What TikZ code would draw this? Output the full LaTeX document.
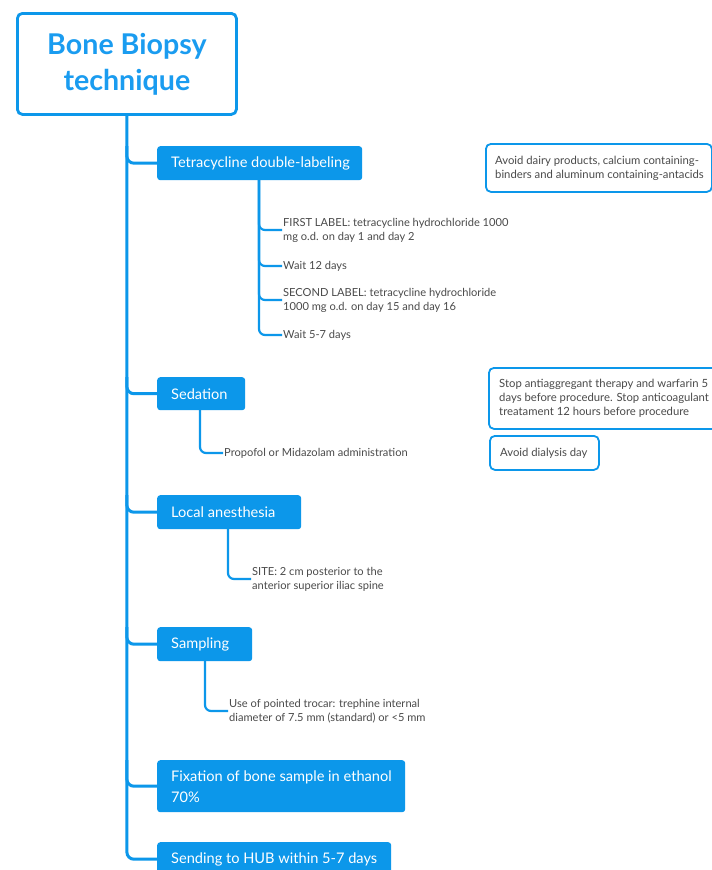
\documentclass[tikz,border=0pt]{standalone}
\usepackage{fontspec}
\setmainfont{Lato}
\definecolor{mblue}{HTML}{0C97EA}
\definecolor{tblue}{HTML}{1A9CF0}
\definecolor{tgray}{HTML}{4A4A4A}
\begin{document}
\begin{tikzpicture}[x=1pt,y=-1pt,
  trunk/.style={draw=mblue, line width=3pt, rounded corners=7pt},
  childline/.style={draw=mblue, line width=2.2pt, rounded corners=6pt},
  mainbox/.style={fill=mblue, rounded corners=3pt, anchor=north west, inner sep=0pt},
  maintext/.style={text=white, font=\fontsize{14.6}{21}\selectfont, anchor=west, align=left, inner sep=0pt},
  notebox/.style={draw=mblue, line width=1.8pt, fill=white, rounded corners=5pt, anchor=north west, inner sep=0pt},
  notetext/.style={text=tgray, font=\fontsize{11.3}{14}\selectfont, anchor=west, align=left, inner sep=0pt},
  childtext/.style={text=tgray, font=\fontsize{11.1}{14}\selectfont, anchor=west, align=left, inner sep=1pt}]
\useasboundingbox (0,0) rectangle (712,870);
\clip (0,0) rectangle (712,870);
\fill[white] (0,0) rectangle (712,870);

% title
\node[draw=mblue, line width=2.8pt, rounded corners=5pt, fill=white, anchor=north west,
      minimum width=219pt, minimum height=101pt, inner sep=0pt,
      text=tblue, font=\bfseries\fontsize{28.6}{36}\selectfont, align=center] (title) at (16,12)
      {Bone Biopsy\\technique};

% main boxes
\node[mainbox, minimum width=205pt, minimum height=34pt] (tetra) at (157,146) {};
\node[maintext] (tetrat) at ([xshift=14pt]tetra.west) {Tetracycline double-labeling};
\node[mainbox, minimum width=88pt, minimum height=33pt] (sed) at (157,377) {};
\node[maintext] (sedt) at ([xshift=14pt]sed.west) {Sedation};
\node[mainbox, minimum width=144pt, minimum height=34pt] (loc) at (157,495) {};
\node[maintext] (loct) at ([xshift=14pt]loc.west) {Local anesthesia};
\node[mainbox, minimum width=95pt, minimum height=34pt] (samp) at (157,627) {};
\node[maintext] (sampt) at ([xshift=14pt]samp.west) {Sampling};
\node[mainbox, minimum width=248pt, minimum height=52pt] (fix) at (157,760) {};
\node[maintext] (fixt) at ([xshift=14pt]fix.west) {Fixation of bone sample in ethanol\\70\%};
\node[mainbox, minimum width=234pt, minimum height=34pt] (send) at (157,842) {};
\node[maintext] (sendt) at ([xshift=14pt]send.west) {Sending to HUB within 5-7 days};

% trunk and branches
\draw[trunk] (title.south) |- (send.west);
\draw[trunk] (title.south |- tetra.north) |- (tetra.west);
\draw[trunk] (title.south |- sed.north) |- (sed.west);
\draw[trunk] (title.south |- loc.north) |- (loc.west);
\draw[trunk] (title.south |- samp.north) |- (samp.west);
\draw[trunk] (title.south |- fix.north) |- (fix.west);

% tetracycline children
\node[childtext] (c1) at (282,230) {FIRST LABEL: tetracycline hydrochloride 1000\\mg o.d. on day 1 and day 2};
\node[childtext] (c2) at (282,266) {Wait 12 days};
\node[childtext] (c3) at (282,300) {SECOND LABEL: tetracycline hydrochloride\\1000 mg o.d. on day 15 and day 16};
\node[childtext] (c4) at (282,335) {Wait 5-7 days};
\coordinate (tb) at (259,180);
\draw[childline] (tb) |- (c1.west);
\draw[childline] (tb) |- (c2.west);
\draw[childline] (tb) |- (c3.west);
\draw[childline] (tb) |- (c4.west);

% other children
\node[childtext] (s1) at (223,453) {Propofol or Midazolam administration};
\draw[childline] (200,410) |- (s1.west);
\node[childtext] (l1) at (251,579) {SITE: 2 cm posterior to the\\anterior superior iliac spine};
\draw[childline] (228,529) |- (l1.west);
\node[childtext] (p1) at (228,711) {Use of pointed trocar: trephine internal\\diameter of 7.5 mm (standard) or <5 mm};
\draw[childline] (205,661) |- (p1.west);

% notes
\node[notebox, minimum width=226pt, minimum height=48pt] (n1) at (485,143) {};
\node[notetext] (n1t) at ([xshift=10pt]n1.west) {Avoid dairy products, calcium containing-\\binders and aluminum containing-antacids};
\node[notebox, minimum width=240pt, minimum height=61pt] (n2) at (488,367) {};
\node[notetext] (n2t) at ([xshift=11pt]n2.west) {Stop antiaggregant therapy and warfarin 5\\days before procedure. Stop anticoagulant\\treatament 12 hours before procedure};
\node[notebox, minimum width=109pt, minimum height=34pt] (n3) at (489,435) {};
\node[notetext] (n3t) at ([xshift=11pt]n3.west) {Avoid dialysis day};
\end{tikzpicture}
\end{document}
